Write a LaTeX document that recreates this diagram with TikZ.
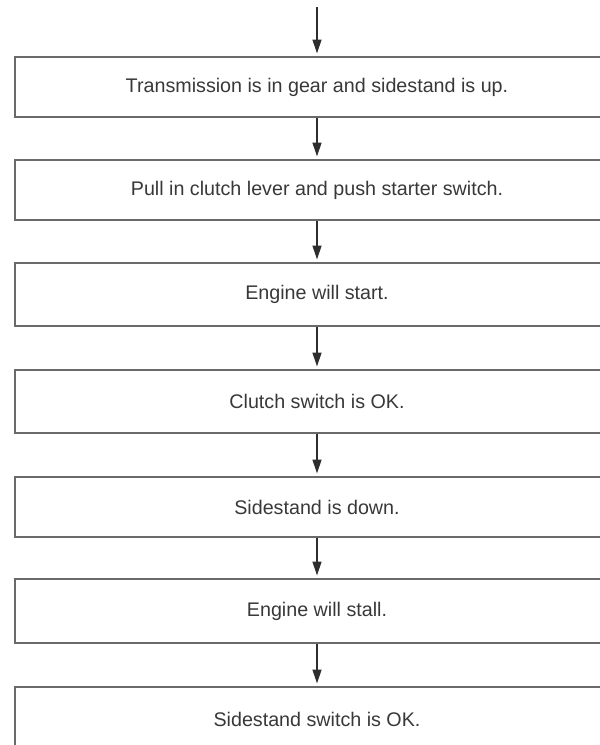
\documentclass[tikz,border=0pt]{standalone}
\usepackage{fontspec}
\setmainfont{Liberation Sans}
\usetikzlibrary{arrows.meta}
\definecolor{boxline}{HTML}{6A6A6A}
\definecolor{txt}{HTML}{383838}
\definecolor{arr}{HTML}{2E2E2E}
\begin{document}
\begin{tikzpicture}[x=1pt,y=-1pt,
  stepbox/.style={draw=boxline,line width=2pt,rectangle,minimum width=604pt,
    inner sep=0pt,text=txt,font=\fontsize{19.7pt}{22pt}\selectfont},
  flow/.style={draw=arr,line width=1.3pt,-{Triangle[width=9pt,length=14pt]},shorten >=2.5pt}]
\useasboundingbox (0,0) rectangle (600,745);
\clip (0,0) rectangle (600,745);
\coordinate (start) at (317,7);
\node[stepbox,minimum height=60pt] (b1) at (317,87) {Transmission is in gear and sidestand is up.};
\node[stepbox,minimum height=60pt] (b2) at (317,190) {Pull in clutch lever and push starter switch.};
\node[stepbox,minimum height=63pt] (b3) at (317,294.5) {Engine will start.};
\node[stepbox,minimum height=63pt] (b4) at (317,401.5) {Clutch switch is OK.};
\node[stepbox,minimum height=60pt] (b5) at (317,507) {Sidestand is down.};
\node[stepbox,minimum height=64pt] (b6) at (317,611) {Engine will stall.};
\node[stepbox,minimum height=64pt] (b7) at (317,719) {Sidestand switch is OK.};
\draw[flow] (start) -- (b1.north);
\draw[flow] (b1.south) -- (b2.north);
\draw[flow] (b2.south) -- (b3.north);
\draw[flow] (b3.south) -- (b4.north);
\draw[flow] (b4.south) -- (b5.north);
\draw[flow] (b5.south) -- (b6.north);
\draw[flow] (b6.south) -- (b7.north);
\end{tikzpicture}
\end{document}
